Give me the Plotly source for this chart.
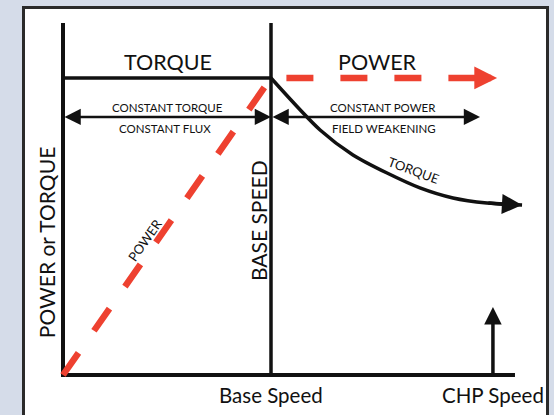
import plotly.graph_objects as go

# ---------------- data ----------------
speed_labels = ["Base Speed", "CHP Speed"]
speed_positions = [1.0, 2.067]
axis_top = 1.185
axis_right = 2.173

torque_flat_x = [0.0, 1.0]
torque_flat_y = [1.0, 1.0]
torque_curve_x = [1.0, 1.236, 1.394, 1.558, 1.716, 1.875, 2.038, 2.207]
torque_curve_y = [1.0, 0.825, 0.741, 0.680, 0.630, 0.596, 0.579, 0.572]

power_x = [0.0, 1.0, 2.087]
power_y = [0.0, 1.0, 1.0]

chp_arrow_y = [0.0, 0.229]

region_ct = [0.0, 1.0]
region_cp = [1.0, 2.005]
region_arrow_y = 0.869

# ---------------- styles ----------------
RED = "#ee4130"
BLACK = "#111111"
BG = "#d5dce9"
FONT = "Lato"
power_arrow_len = 0.105

fig = go.Figure()

# axes frame
fig.add_trace(go.Scatter(x=[0, 0], y=[-0.007, axis_top], mode="lines",
                         line=dict(color=BLACK, width=4), hoverinfo="skip"))
fig.add_trace(go.Scatter(x=[0, axis_right], y=[0, 0], mode="lines",
                         line=dict(color=BLACK, width=4), hoverinfo="skip"))
fig.add_trace(go.Scatter(x=[speed_positions[0]] * 2, y=[-0.005, axis_top], mode="lines",
                         line=dict(color=BLACK, width=3.5), hoverinfo="skip"))

# torque
fig.add_trace(go.Scatter(x=torque_flat_x, y=torque_flat_y, mode="lines",
                         line=dict(color=BLACK, width=3.5), hoverinfo="skip"))
fig.add_trace(go.Scatter(x=torque_curve_x, y=torque_curve_y, mode="lines",
                         line=dict(color=BLACK, width=3.5, shape="spline", smoothing=0.8),
                         hoverinfo="skip"))

# power (dashed)
px = power_x[:-1] + [power_x[-1] - power_arrow_len]
fig.add_trace(go.Scatter(x=px, y=power_y, mode="lines",
                         line=dict(color=RED, width=6.5, dash="27px,27px"),
                         hoverinfo="skip"))

annotations = []

def arrow(x0, y0, x1, y1, color, width, size, both=False):
    d = dict(x=x1, y=y1, ax=x0, ay=y0, xref="x", yref="y", axref="x", ayref="y",
             text="", showarrow=True, arrowhead=2, arrowsize=size, arrowwidth=width,
             arrowcolor=color)
    if both:
        d.update(arrowside="end+start", startarrowhead=2, startarrowsize=size)
    annotations.append(d)

# arrow heads
arrow(torque_curve_x[-2], torque_curve_y[-2], torque_curve_x[-1], torque_curve_y[-1],
      BLACK, 3.5, 1.15)
arrow(power_x[-1] - power_arrow_len, power_y[-1], power_x[-1], power_y[-1], RED, 6.5, 0.7)
arrow(speed_positions[1], chp_arrow_y[0], speed_positions[1], chp_arrow_y[1], BLACK, 3.5, 1.0)
arrow(region_ct[0], region_arrow_y, region_ct[1], region_arrow_y, BLACK, 2.5, 1.3, both=True)
arrow(region_cp[0], region_arrow_y, region_cp[1], region_arrow_y, BLACK, 2.5, 1.3, both=True)

def label(x, y, text, size, angle=0):
    annotations.append(dict(x=x, y=y, xref="x", yref="y", text=text, showarrow=False,
                            textangle=angle,
                            font=dict(family=FONT, size=size, color=BLACK, weight=400),
                            xanchor="center", yanchor="middle"))

label(0.505, 1.054, "TORQUE", 21.5)
label(1.51, 1.054, "POWER", 21.5)
label(0.50, 0.9007, "CONSTANT TORQUE", 11.5)
label(0.49, 0.830, "CONSTANT FLUX", 11.5)
label(1.538, 0.9007, "CONSTANT POWER", 11.5)
label(1.543, 0.830, "FIELD WEAKENING", 11.5)
label(1.683, 0.690, "TORQUE", 13, 20)
label(0.394, 0.4545, "POWER", 13, -55)
label(-0.0817, 0.444, "POWER or TORQUE", 21, -90)
label(0.9375, 0.5185, "BASE SPEED", 21, -90)
for pos, txt in zip(speed_positions, speed_labels):
    label(pos, -0.0673, txt, 20.5)

fig.update_layout(
    width=554, height=415,
    margin=dict(l=0, r=0, t=0, b=0),
    paper_bgcolor=BG, plot_bgcolor="rgba(0,0,0,0)",
    showlegend=False, hovermode=False,
    xaxis=dict(range=[-0.3029, 2.3606], visible=False, fixedrange=True),
    yaxis=dict(range=[-0.1347, 1.2626], visible=False, fixedrange=True),
    annotations=annotations,
    shapes=[dict(type="rect", xref="paper", yref="paper",
                 x0=23.5 / 554, x1=547.5 / 554, y0=-0.05, y1=1 - 7.5 / 415,
                 fillcolor="white", line=dict(color="#2a2a2a", width=3), layer="below")],
)

fig.write_html("out.html", config={"displayModeBar": False},
               post_script="document.body.style.margin='0';document.body.style.padding='0';")
